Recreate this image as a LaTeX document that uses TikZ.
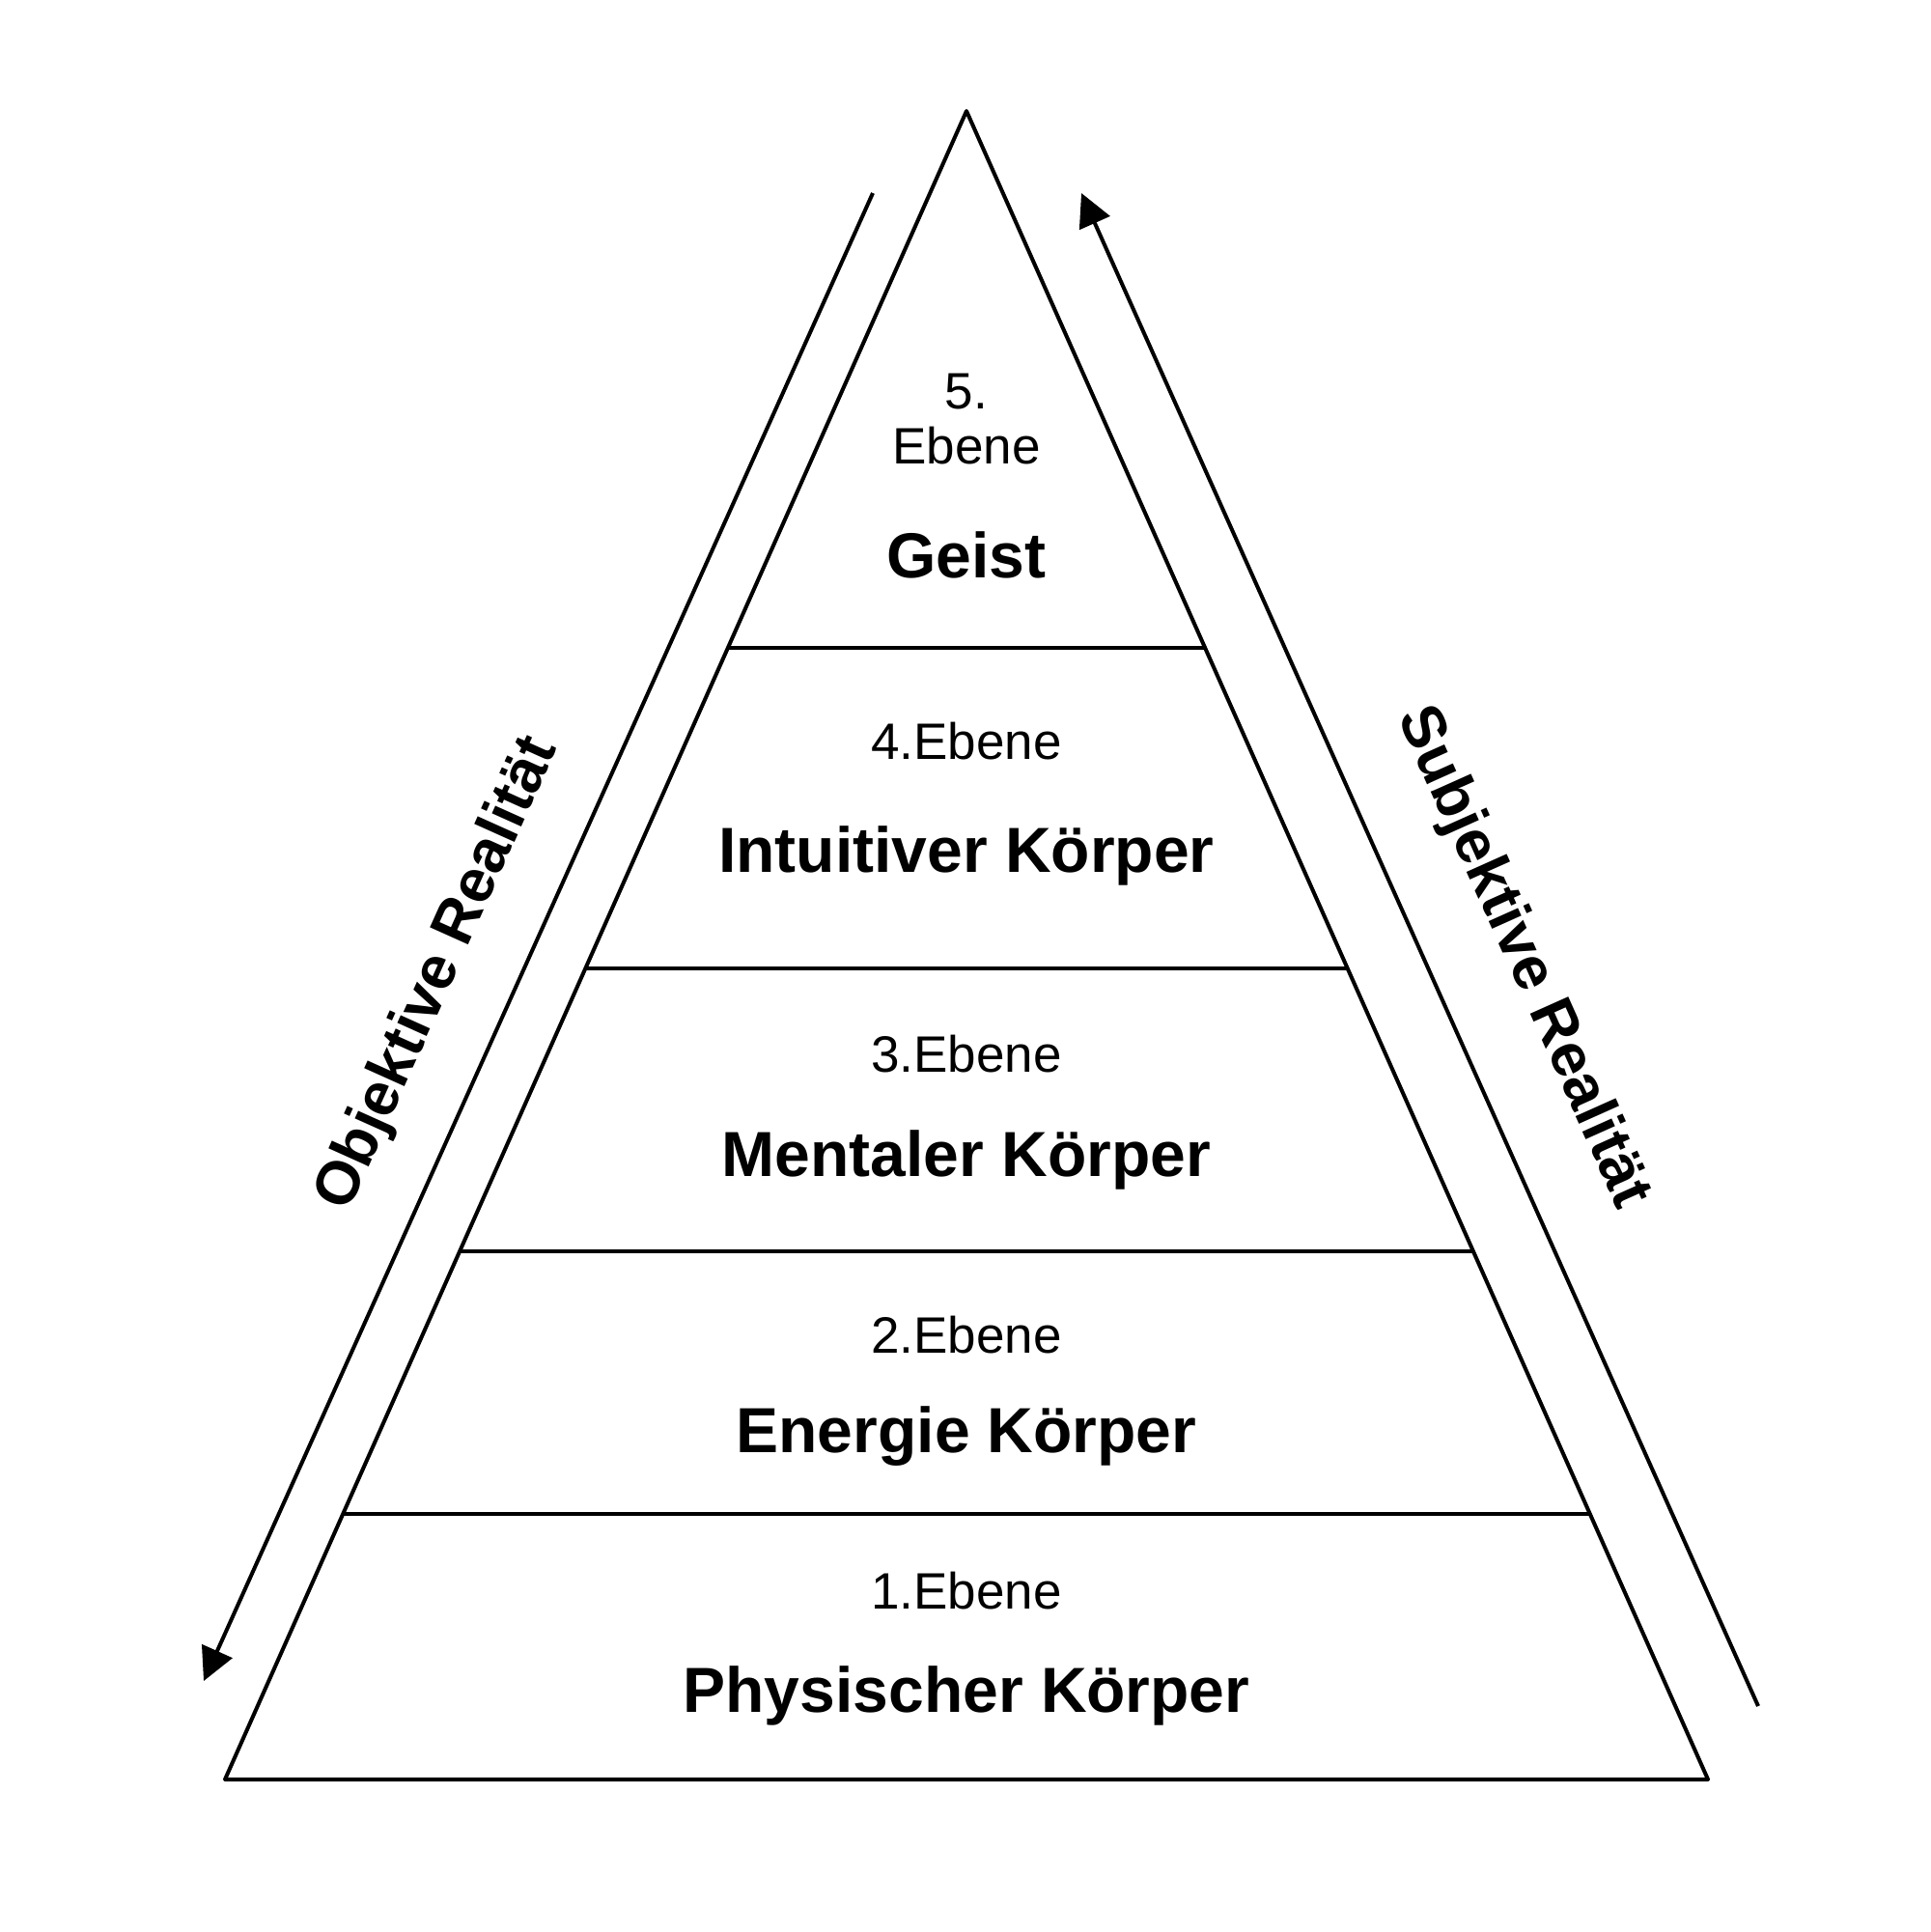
\documentclass[tikz,border=0pt]{standalone}
\usepackage{fontspec}
\setmainfont{Liberation Sans}
\usetikzlibrary{calc,arrows.meta}

\begin{document}
\begin{tikzpicture}[x=0.5pt,y=-0.5pt,
	ebene/.style={font=\fontsize{26.5}{28.5}\selectfont,align=center,anchor=base},
	koerper/.style={font=\fontsize{33}{38}\selectfont\bfseries,anchor=base},
	realite/.style={font=\fontsize{31.5}{36}\selectfont\bfseries},
	fleche/.style={line width=2pt,-{Triangle[length=17pt,width=17pt]}}]
	\def\largeur{2000}
	\def\hauteur{2001}
	\def\milieu{1001}
	\useasboundingbox (0,0) rectangle (\largeur,\hauteur);
	
	%Sommets du triangle
	\coordinate (S) at (\milieu,115);
	\coordinate (A) at (233,1843);
	\coordinate (B) at (1769,1843);
	\draw[line width=2pt,line join=round] (S) -- (A) -- (B) -- cycle;
	
	%Niveaux
	\foreach \t in {0.3218,0.5139,0.6834,0.8409}{
	\draw[line width=1.75pt] ($(S)!\t!(A)$) -- ($(S)!\t!(B)$);
}
	
	%Textes
	\node[ebene] (e5) at (\milieu,480) {5.\\Ebene};
	\node[koerper] (k5) at (\milieu,598) {Geist};
	\node[ebene] (e4) at (\milieu,786) {4.Ebene};
	\node[koerper] (k4) at (\milieu,903) {Intuitiver Körper};
	\node[ebene] (e3) at (\milieu,1110) {3.Ebene};
	\node[koerper] (k3) at (\milieu,1218) {Mentaler Körper};
	\node[ebene] (e2) at (\milieu,1401) {2.Ebene};
	\node[koerper] (k2) at (\milieu,1504) {Energie Körper};
	\node[ebene] (e1) at (\milieu,1666) {1.Ebene};
	\node[koerper] (k1) at (\milieu,1773) {Physischer Körper};
	
	%Flèches
	\coordinate (O1) at (904,200);
	\coordinate (O2) at (211,1741);
	\coordinate (U1) at (1821,1767);
	\coordinate (U2) at (1120,200);
	\draw[fleche] (O1) -- (O2);
	\draw[fleche] (U1) -- (U2);
	\node[realite,rotate=65.8] (obj) at (454,1009) {Objektive Realität};
	\node[realite,rotate=-65.9] (subj) at (1577,992) {Subjektive Realität};
	
\end{tikzpicture}
\end{document}
